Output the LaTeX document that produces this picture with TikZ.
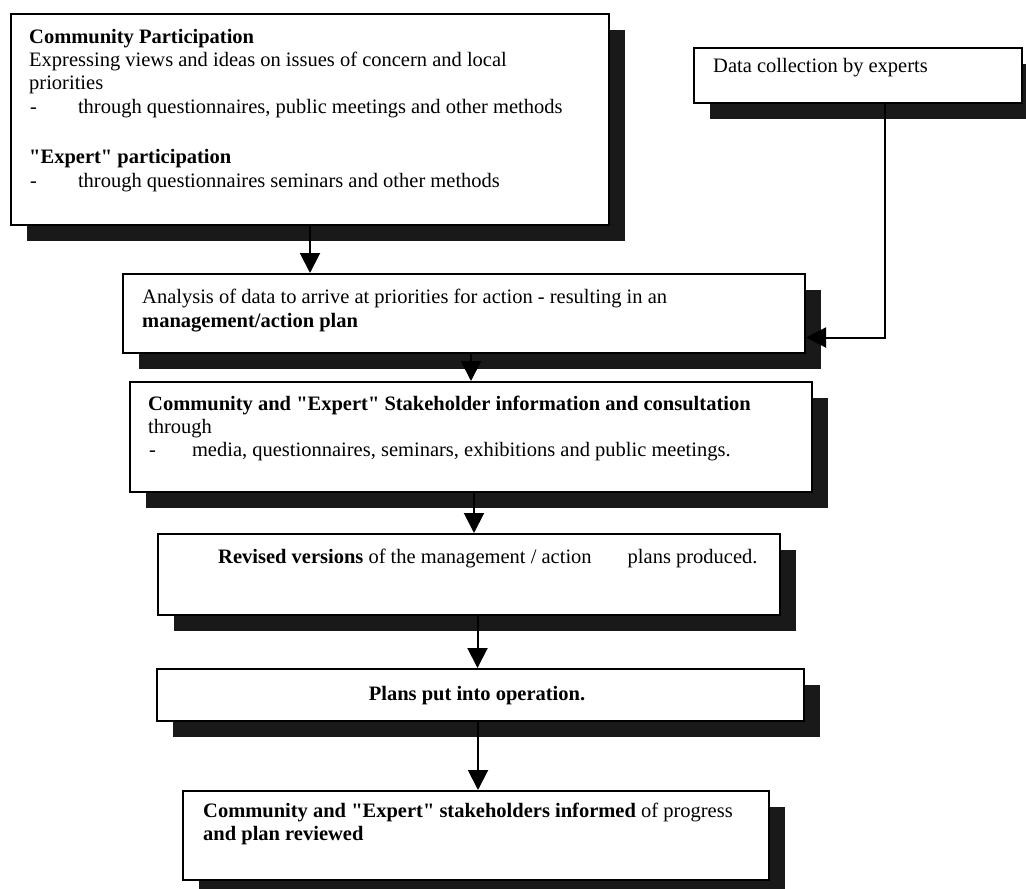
\documentclass[tikz,border=0pt]{standalone}
\usepackage{fontspec}
\setmainfont{Liberation Serif}
\usetikzlibrary{arrows.meta,shadows}

\begin{document}
\begin{tikzpicture}[x=1pt,y=-1pt,
  stagebox/.style={draw=black, line width=2pt, fill=white, rectangle, inner sep=0pt,
    anchor=north west,
    drop shadow={shadow xshift=16pt, shadow yshift=-16pt, opacity=1, fill=black!90}},
  txt/.style={inner sep=0pt, anchor=base west, font=\fontsize{20.5}{23}\selectfont},
  flow/.style={line width=2pt, -{Triangle[width=20pt,length=20pt]}},
]
\path[use as bounding box, clip] (0,0) rectangle (1026,889);
\fill[white] (0,0) rectangle (1026,889);

% stage boxes
\node[stagebox, minimum width=598pt, minimum height=211pt] (b1) at (10,13) {};
\node[stagebox, minimum width=328pt, minimum height=55pt]  (b2) at (693,47) {};
\node[stagebox, minimum width=682pt, minimum height=79pt]  (b3) at (122,273) {};
\node[stagebox, minimum width=682pt, minimum height=110pt] (b4) at (129,381) {};
\node[stagebox, minimum width=622pt, minimum height=81pt]  (b5) at (157,533) {};
\node[stagebox, minimum width=647pt, minimum height=52pt]  (b6) at (156,668) {};
\node[stagebox, minimum width=586pt, minimum height=89pt]  (b7) at (182,790) {};

% participation box
\node[txt] (b1t1) at (29,43)  {\textbf{Community Participation}};
\node[txt] (b1t2) at (29,66)  {Expressing views and ideas on issues of concern and local};
\node[txt] (b1t3) at (29,89)  {priorities};
\node[txt] (b1t4) at (30,113) {-\hspace{41pt}through questionnaires, public meetings and other methods};
\node[txt] (b1t5) at (29,163) {\textbf{\textquotedbl Expert\textquotedbl\ participation}};
\node[txt] (b1t6) at (30,187) {-\hspace{41pt}through questionnaires seminars and other methods};

% expert data
\node[txt] (b2t1) at (713,72) {Data collection by experts};

% analysis
\node[txt] (b3t1) at (142,303) {Analysis of data to arrive at priorities for action - resulting in an};
\node[txt] (b3t2) at (142,327) {\textbf{management/action plan}};

% consultation
\node[txt] (b4t1) at (148,410) {\textbf{Community and \textquotedbl Expert\textquotedbl\ Stakeholder information and consultation}};
\node[txt] (b4t2) at (148,433) {through};
\node[txt] (b4t3) at (149,456) {-\hspace{36pt}media, questionnaires, seminars, exhibitions and public meetings.};

% revision
\node[txt] (b5t1) at (218,563) {\textbf{Revised versions} of the management / action\hspace{36pt}plans produced.};

% operation
\node[txt, anchor=base] (b6t1) at (477,700) {\textbf{Plans put into operation.}};

% review
\node[txt] (b7t1) at (203,817) {\textbf{Community and \textquotedbl Expert\textquotedbl\ stakeholders informed} of progress};
\node[txt] (b7t2) at (203,840) {\textbf{and plan reviewed}};

% connectors
\coordinate (dtip) at ([yshift=-24pt]b3.east);
\draw[flow] (b1.south) -- (b1.south |- b3.north);
\draw[flow] ([xshift=27pt]b2.south) |- (dtip);
\draw[flow] (b4.north |- b3.south) -- (b4.north);
\draw[flow] ([xshift=5pt]b5.north |- b4.south) -- ([xshift=5pt]b5.north);
\draw[flow] ([xshift=-3pt]b6.north |- b5.south) -- ([xshift=-3pt]b6.north);
\draw[flow] ([xshift=2pt]b7.north |- b6.south) -- ([xshift=2pt]b7.north);
\end{tikzpicture}
\end{document}
